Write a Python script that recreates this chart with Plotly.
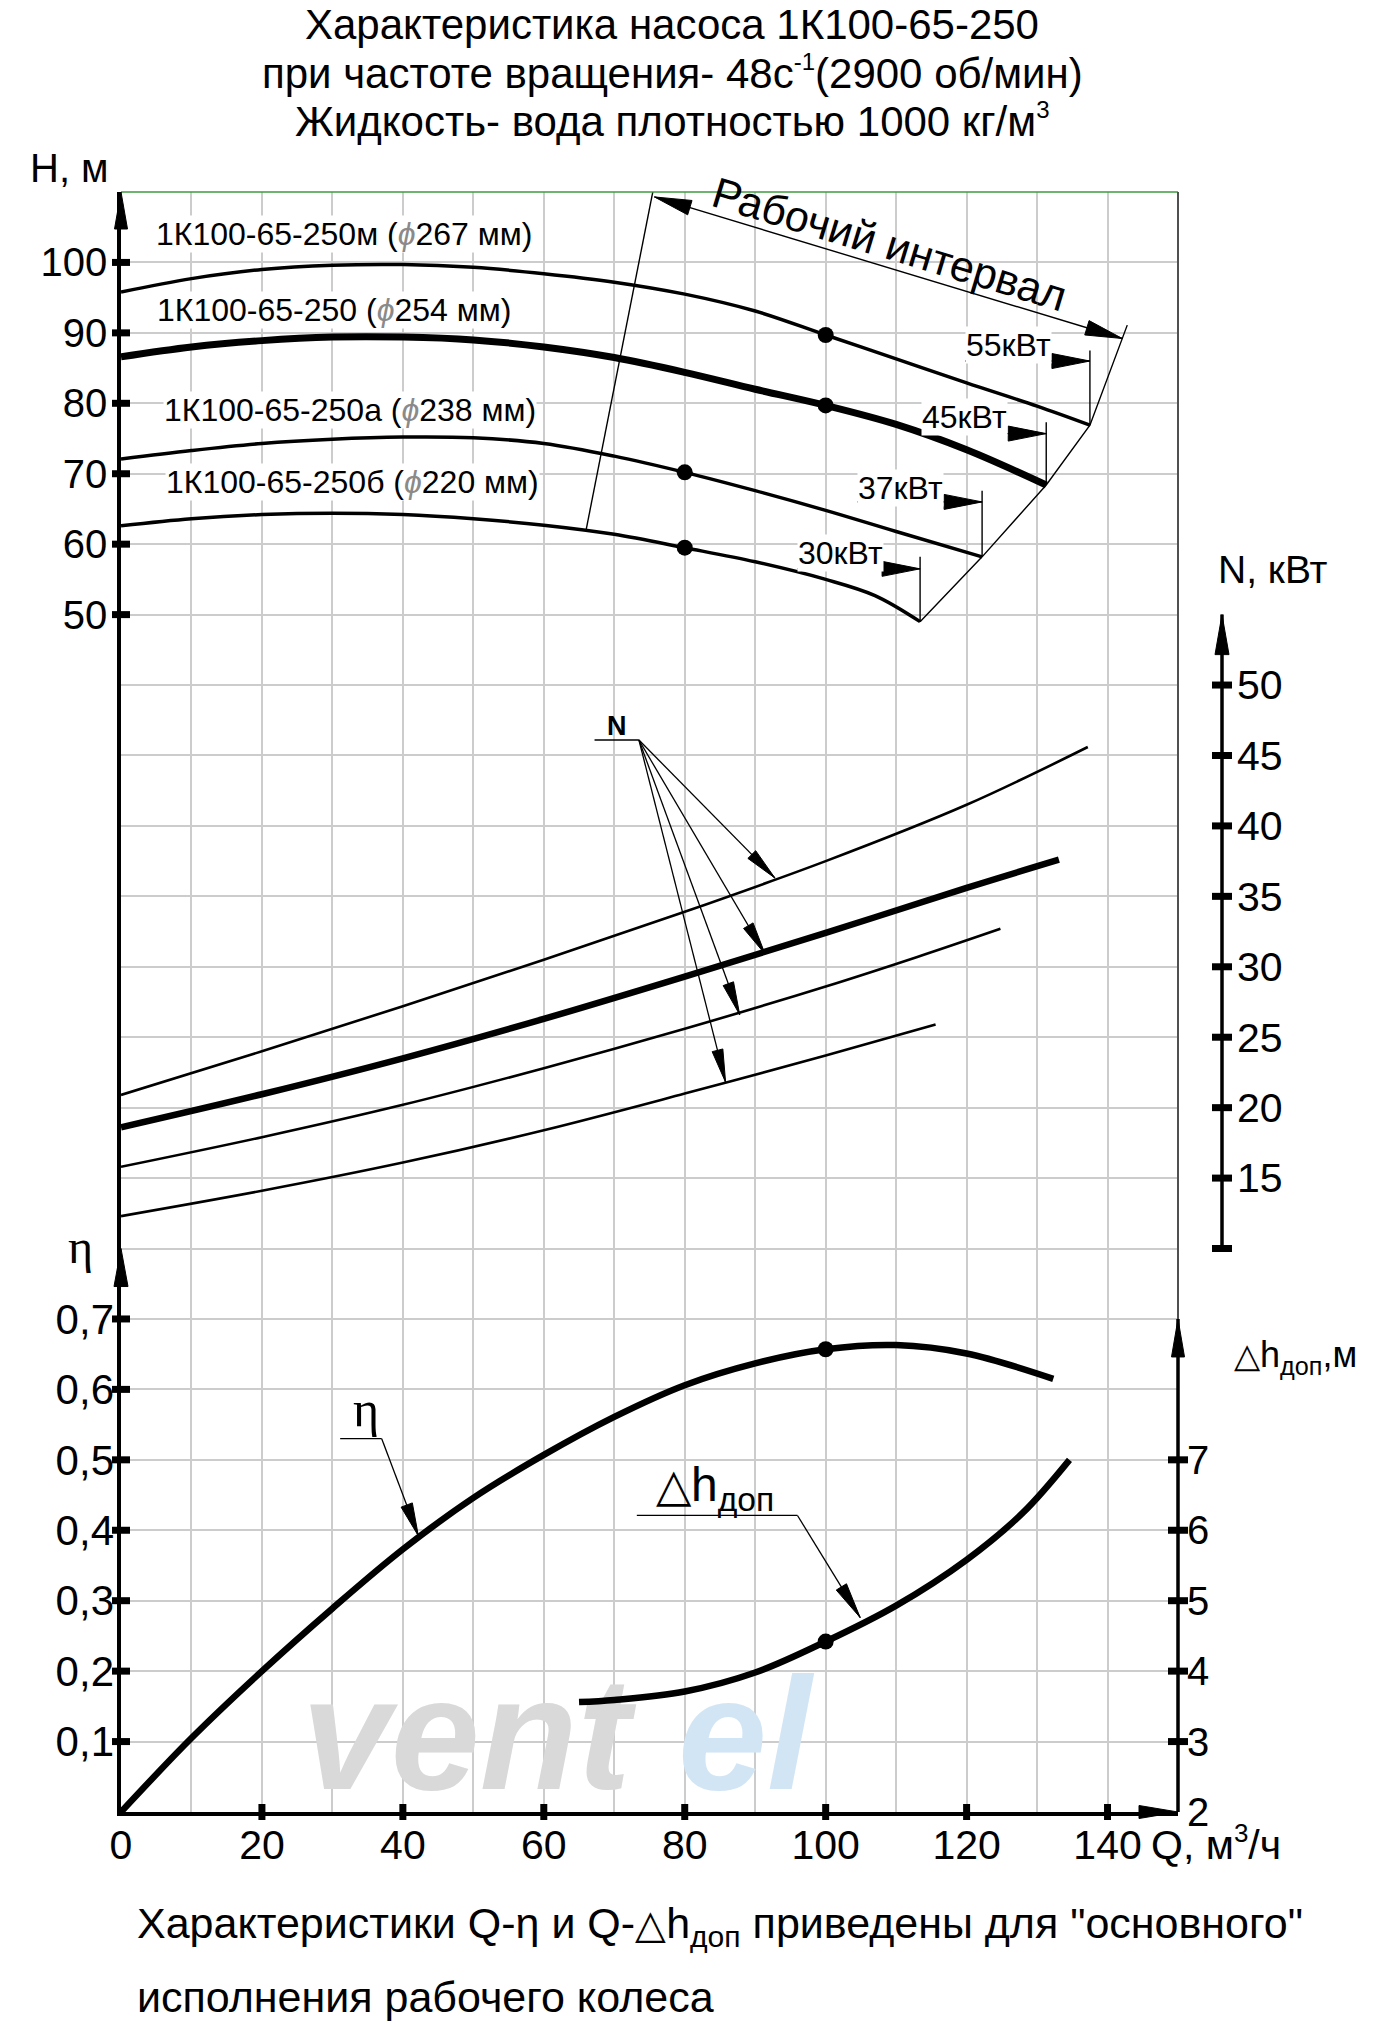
import math
import plotly.graph_objects as go

# ------------------------------------------------------------------ data
# Head curves H(Q), Q in m3/h, H in m
Q_m = [0, 10, 20, 30, 40, 50, 60, 70, 80, 90, 100, 110, 120, 130, 137.5]
H_m = [95.8, 97.7, 99.0, 99.6, 99.7, 99.3, 98.4, 97.2, 95.5, 93.1, 89.7, 86.3, 82.9, 79.6, 76.9]
Q_base = [0, 10, 20, 30, 40, 50, 60, 70, 80, 90, 100, 110, 120, 131.3]
H_base = [86.6, 88.0, 88.9, 89.4, 89.4, 89.0, 88.0, 86.5, 84.4, 82.0, 79.7, 77.0, 73.4, 68.4]
Q_a = [0, 10, 20, 30, 40, 50, 60, 70, 80, 90, 100, 110, 122.2]
H_a = [72.1, 73.3, 74.3, 74.9, 75.2, 75.1, 74.3, 72.5, 70.2, 67.6, 64.8, 61.8, 58.2]
Q_b = [0, 10, 20, 30, 40, 50, 60, 70, 80, 90, 100, 107, 113.4]
H_b = [62.6, 63.6, 64.2, 64.4, 64.2, 63.6, 62.7, 61.4, 59.5, 57.5, 55.0, 52.7, 49.0]

IMP_NAMES = ["1К100-65-250м", "1К100-65-250", "1К100-65-250а", "1К100-65-250б"]
IMP_DIAM = [267, 254, 238, 220]
LABEL_Q = [4.8, 5.0, 5.9, 6.3]
LABEL_H = [104.1, 93.2, 79.0, 68.8]

OP_Q = [100, 100, 80, 80]
OP_H = [89.7, 79.7, 70.2, 59.5]

# working interval
LEFT_Q = [75.8, 66.0]
LEFT_H = [111.7, 62.0]
RIGHT_Q = [142.8, 137.5, 131.3, 122.2, 113.4]
RIGHT_H = [91.1, 76.9, 68.4, 58.2, 49.0]
INTERVAL_Q = [75.7, 142.1]
INTERVAL_H = [109.3, 89.2]
INTERVAL_TEXT = "Рабочий интервал"
INTERVAL_TEXT_Q, INTERVAL_TEXT_H = 109.0, 102.6

# motor powers
MOTOR_LABELS = ["55кВт", "45кВт", "37кВт", "30кВт"]
MOTOR_Q0 = [119.8, 113.5, 104.5, 96.0]
MOTOR_Q1 = [137.5, 131.3, 122.2, 113.4]
MOTOR_H_ARROW = [86.0, 75.7, 66.0, 56.5]
MOTOR_H_TOP = [87.5, 77.3, 67.6, 58.2]
MOTOR_H_END = [76.9, 68.4, 58.2, 49.0]
MOTOR_H_TEXT = [88.3, 78.1, 68.0, 58.8]

# power curves N(Q), kW
QN_m = [0, 20, 40, 60, 80, 100, 120, 137.2]
N_m = [20.9, 24.0, 27.2, 30.5, 33.9, 37.5, 41.5, 45.6]
QN_base = [0, 20, 40, 60, 80, 100, 120, 133.1]
N_base = [18.6, 20.95, 23.5, 26.3, 29.3, 32.4, 35.6, 37.6]
QN_a = [0, 20, 40, 60, 80, 100, 113, 124.8]
N_a = [15.8, 17.9, 20.2, 22.8, 25.6, 28.6, 30.7, 32.7]
QN_b = [0, 20, 40, 60, 80, 100, 115.6]
N_b = [12.3, 14.1, 16.1, 18.4, 21.0, 23.7, 25.9]

N_LEAD_Q = [67.2, 73.5]
N_LEAD_V = 46.1
N_TEXT_Q, N_TEXT_V = 70.4, 47.1
N_TARGET_Q = [92.8, 91.4, 87.8, 85.8]
N_TARGET_V = [36.3, 30.9, 26.6, 21.8]

# efficiency
Q_eta = [0, 10, 20, 30, 40, 50, 60, 70, 80, 90, 100, 110, 120, 132.3]
ETA = [0, 0.105, 0.2, 0.289, 0.373, 0.446, 0.507, 0.561, 0.606, 0.637, 0.657, 0.663, 0.651, 0.615]
ETA_DOT_Q, ETA_DOT_V = 100, 0.657
ETA_LEAD_Q = [31.1, 37.0]
ETA_LEAD_V = 0.53
ETA_TEXT_Q, ETA_TEXT_V = 34.8, 0.572
ETA_TIP_Q, ETA_TIP_V = 42.2, 0.392

# NPSH required
Q_dh = [65, 70, 80, 90, 100, 110, 120, 128, 134.6]
DH = [3.56, 3.59, 3.71, 3.98, 4.42, 4.93, 5.58, 6.25, 7.0]
DH_DOT_Q, DH_DOT_V = 100, 4.42
DH_LEAD_Q = [73.2, 96.0]
DH_LEAD_V = 6.21
DH_TEXT_Q, DH_TEXT_V = 84.3, 6.6
DH_TIP_Q, DH_TIP_V = 104.9, 4.76

# axis ticks
Q_GRID = list(range(0, 150, 10))
H_GRID = list(range(-120, 111, 10))
H_TICKS = [50, 60, 70, 80, 90, 100]
N_TICKS = [15, 20, 25, 30, 35, 40, 45, 50]
N_AXIS_ENDS = [10, 55]
ETA_TICKS = [0.1, 0.2, 0.3, 0.4, 0.5, 0.6, 0.7]
ETA_ARROW = 0.8
DH_TICKS = [2, 3, 4, 5, 6, 7]
DH_ARROW = 9

# watermark
WM_TEXT = ["<b><i>vent</i></b>", "<b><i>el</i></b>"]
WM_Q = [49.0, 88.5]
WM_ETA = [0.09, 0.09]

# ------------------------------------------------------------------ layout constants
W, HGT = 1373, 2027
ML, MR, MT, MB = 121, 40, 192, 215
PW, PH = W - ML - MR, HGT - MT - MB
XDOM = 1057 / PW
Q_RANGE = [0, 150]
H_RANGE = [-120, 110]
N_RANGE = [-30, 85]
ETA_RANGE = [0, 2.3]
DH_RANGE = [2, 25]
PN = (1222 - ML) / PW

SX = XDOM * PW / (Q_RANGE[1] - Q_RANGE[0])
SH = PH / (H_RANGE[1] - H_RANGE[0])
SN = PH / (N_RANGE[1] - N_RANGE[0])
SE = PH / (ETA_RANGE[1] - ETA_RANGE[0])
SD = PH / (DH_RANGE[1] - DH_RANGE[0])

FONT = "Liberation Sans, Arial, sans-serif"
SERIF = "Liberation Serif, Times New Roman, serif"
GRID = "#cccccc"


def pxx(x):
    return (x - ML) / PW


def pxy(y):
    return 1 - (y - MT) / PH


fig = go.Figure()

# faint watermark text (under everything)
fig.add_trace(go.Scatter(
    x=WM_Q, y=WM_ETA, yaxis="y3", mode="text", text=WM_TEXT,
    textfont=dict(size=160, color=["#d9d9d9", "#d2e5f5"], family=FONT),
    hoverinfo="skip", showlegend=False, cliponaxis=False))


def line(q, v, yaxis="y", width=3.5, spline=True):
    fig.add_trace(go.Scatter(
        x=q, y=v, yaxis=yaxis, mode="lines",
        line=dict(color="black", width=width, shape="spline" if spline else "linear", smoothing=1.0),
        hoverinfo="skip", showlegend=False))


shapes = []


def arrowhead(xa, ya, xref, yref, ddx, ddy, L=34, Wd=11):
    n = math.hypot(ddx, ddy)
    ux, uy = ddx / n, ddy / n
    bx, by = -L * ux, -L * uy
    qx, qy = -uy * Wd / 2, ux * Wd / 2
    path = "M0,0 L{:.2f},{:.2f} L{:.2f},{:.2f} Z".format(bx + qx, by + qy, bx - qx, by - qy)
    shapes.append(dict(type="path", path=path, xref=xref, yref=yref,
                       xsizemode="pixel", ysizemode="pixel", xanchor=xa, yanchor=ya,
                       fillcolor="black", line=dict(color="black", width=1), layer="above"))


# H curves
line(Q_m, H_m, width=3.5)
line(Q_base, H_base, width=7)
line(Q_a, H_a, width=3.5)
line(Q_b, H_b, width=3.5)

# working interval limits
line(LEFT_Q, LEFT_H, width=1.4, spline=False)
line(RIGHT_Q, RIGHT_H, width=1.4, spline=False)
line(INTERVAL_Q, INTERVAL_H, width=1.4, spline=False)
dq = INTERVAL_Q[1] - INTERVAL_Q[0]
dv = INTERVAL_H[1] - INTERVAL_H[0]
arrowhead(INTERVAL_Q[0], INTERVAL_H[0], "x", "y", -dq * SX, -dv * SH, L=37, Wd=15)
arrowhead(INTERVAL_Q[1], INTERVAL_H[1], "x", "y", dq * SX, dv * SH, L=37, Wd=15)
angle = math.degrees(math.atan2(-dv * SH, dq * SX))

# motor power markers
for i in range(4):
    line([MOTOR_Q1[i], MOTOR_Q1[i]], [MOTOR_H_TOP[i], MOTOR_H_END[i]], width=1.4, spline=False)
    line([MOTOR_Q0[i], MOTOR_Q1[i]], [MOTOR_H_ARROW[i], MOTOR_H_ARROW[i]], width=1.4, spline=False)
    arrowhead(MOTOR_Q1[i], MOTOR_H_ARROW[i], "x", "y", 1, 0, L=38, Wd=15)

# operating points
fig.add_trace(go.Scatter(x=OP_Q, y=OP_H, mode="markers", marker=dict(color="black", size=16),
                         hoverinfo="skip", showlegend=False))

# N curves
line(QN_m, N_m, yaxis="y2", width=2.6)
line(QN_base, N_base, yaxis="y2", width=6.5)
line(QN_a, N_a, yaxis="y2", width=2.6)
line(QN_b, N_b, yaxis="y2", width=2.6)
line(N_LEAD_Q, [N_LEAD_V, N_LEAD_V], yaxis="y2", width=1.3, spline=False)
for tq, tv in zip(N_TARGET_Q, N_TARGET_V):
    line([N_LEAD_Q[1], tq], [N_LEAD_V, tv], yaxis="y2", width=1.3, spline=False)
    arrowhead(tq, tv, "x", "y2", (tq - N_LEAD_Q[1]) * SX, (tv - N_LEAD_V) * SN, L=33, Wd=11)

# efficiency
line(Q_eta, ETA, yaxis="y3", width=6.5)
fig.add_trace(go.Scatter(x=[ETA_DOT_Q], y=[ETA_DOT_V], yaxis="y3", mode="markers",
                         marker=dict(color="black", size=16), hoverinfo="skip", showlegend=False))
line(ETA_LEAD_Q, [ETA_LEAD_V, ETA_LEAD_V], yaxis="y3", width=1.3, spline=False)
line([ETA_LEAD_Q[1], ETA_TIP_Q], [ETA_LEAD_V, ETA_TIP_V], yaxis="y3", width=1.3, spline=False)
arrowhead(ETA_TIP_Q, ETA_TIP_V, "x", "y3", (ETA_TIP_Q - ETA_LEAD_Q[1]) * SX,
          (ETA_TIP_V - ETA_LEAD_V) * SE, L=33, Wd=12)

# NPSH
line(Q_dh, DH, yaxis="y4", width=6.5)
fig.add_trace(go.Scatter(x=[DH_DOT_Q], y=[DH_DOT_V], yaxis="y4", mode="markers",
                         marker=dict(color="black", size=16), hoverinfo="skip", showlegend=False))
line(DH_LEAD_Q, [DH_LEAD_V, DH_LEAD_V], yaxis="y4", width=1.3, spline=False)
line([DH_LEAD_Q[1], DH_TIP_Q], [DH_LEAD_V, DH_TIP_V], yaxis="y4", width=1.3, spline=False)
arrowhead(DH_TIP_Q, DH_TIP_V, "x", "y4", (DH_TIP_Q - DH_LEAD_Q[1]) * SX,
          (DH_TIP_V - DH_LEAD_V) * SD, L=36, Wd=12)

# ------------------------------------------------------------------ frame and axes
shapes.append(dict(type="line", xref="x", yref="paper", x0=Q_RANGE[0], x1=Q_RANGE[1], y0=1, y1=1,
                   line=dict(color="#3e9b3e", width=1.6)))
shapes.append(dict(type="line", xref="paper", yref="y4", x0=XDOM, x1=XDOM, y0=DH_ARROW, y1=DH_RANGE[1],
                   line=dict(color="#505050", width=2)))
shapes.append(dict(type="line", xref="paper", yref="y4", x0=XDOM, x1=XDOM, y0=DH_RANGE[0], y1=DH_ARROW,
                   line=dict(color="black", width=3.5)))
shapes.append(dict(type="line", xref="paper", yref="y2", x0=PN, x1=PN, y0=N_AXIS_ENDS[0], y1=N_AXIS_ENDS[1],
                   line=dict(color="black", width=3.5)))

arrowhead(0, H_RANGE[1], "paper", "y", 0, 1, L=37, Wd=13)
arrowhead(0, ETA_ARROW, "paper", "y3", 0, 1, L=38, Wd=14)
arrowhead(Q_RANGE[1], 0, "x", "paper", 1, 0, L=39, Wd=13)
arrowhead(XDOM, DH_ARROW, "paper", "y4", 0, 1, L=38, Wd=13)
arrowhead(PN, N_AXIS_ENDS[1], "paper", "y2", 0, 1, L=40, Wd=14)


def hdash(xa, yref, v, half=9, w=7):
    shapes.append(dict(type="line", xref="paper", yref=yref, xsizemode="pixel", xanchor=xa,
                       x0=-half, x1=half, y0=v, y1=v, line=dict(color="black", width=w)))


for v in H_TICKS:
    hdash(0, "y", v)
for v in ETA_TICKS:
    hdash(0, "y3", v)
for v in DH_TICKS[1:]:
    hdash(XDOM, "y4", v, half=10)
for v in N_TICKS + [N_AXIS_ENDS[0]]:
    hdash(PN, "y2", v, half=10)
for q in Q_GRID:
    if q % 20 == 0 and q > 0:
        shapes.append(dict(type="line", xref="x", yref="paper", ysizemode="pixel", yanchor=0,
                           x0=q, x1=q, y0=-8, y1=8, line=dict(color="black", width=7)))

# ------------------------------------------------------------------ annotations
ann = []


def text(s, x, y, xref="paper", yref="paper", size=40, xanchor="center", family=FONT, bg=None, angle=0):
    d = dict(text=s, x=x, y=y, xref=xref, yref=yref, showarrow=False, xanchor=xanchor, yanchor="middle",
             font=dict(size=size, family=family, color="black"), borderpad=0, textangle=angle)
    if bg:
        d["bgcolor"] = bg
    ann.append(d)


TRI = "<span style='font-size:{}px'>△</span>"
SUP = "<sup><span style='font-size:{}px'>{}</span></sup>"

text("Характеристика насоса 1К100-65-250", pxx(672), pxy(24), size=42)
text("при частоте вращения- 48с" + SUP.format(24, "-1") + "(2900 об/мин)", pxx(672), pxy(72), size=42)
text("Жидкость- вода плотностью 1000 кг/м" + SUP.format(24, "3"), pxx(672), pxy(121), size=42)

text("H, м", pxx(69), pxy(168), size=40)
text("N, кВт", pxx(1273), pxy(569), size=39)
text("η", pxx(80), pxy(1246), size=48, family=SERIF)
text(TRI.format(34) + "h<sub>доп</sub>,м", pxx(1233), pxy(1357), size=36, xanchor="left")
text("Q, м" + SUP.format(26, "3") + "/ч", pxx(1150), pxy(1843), size=41, xanchor="left")

text("Характеристики Q-η и Q-" + TRI.format(40) + "h<sub>доп</sub> приведены для \"основного\"",
     pxx(136), pxy(1926), size=43, xanchor="left")
text("исполнения рабочего колеса", pxx(136), pxy(1997), size=43, xanchor="left")

for nm, dia, q, h in zip(IMP_NAMES, IMP_DIAM, LABEL_Q, LABEL_H):
    text("{} (<span style='color:#8a8a8a'><i>ϕ</i></span>{} мм)".format(nm, dia), q, h, "x", "y",
         size=32, xanchor="left", bg="white")

for lab, q, h in zip(MOTOR_LABELS, MOTOR_Q0, MOTOR_H_TEXT):
    text(lab, q, h, "x", "y", size=32, xanchor="left", bg="white")

text(INTERVAL_TEXT, INTERVAL_TEXT_Q, INTERVAL_TEXT_H, "x", "y", size=43, angle=angle)
text("<b>N</b>", N_TEXT_Q, N_TEXT_V, "x", "y2", size=27)
text("η", ETA_TEXT_Q, ETA_TEXT_V, "x", "y3", size=50, family=SERIF)
text(TRI.format(46) + "h<sub>доп</sub>", DH_TEXT_Q, DH_TEXT_V, "x", "y4", size=48)

# ------------------------------------------------------------------ axes
fig.update_layout(
    width=W, height=HGT,
    margin=dict(l=ML, r=MR, t=MT, b=MB),
    paper_bgcolor="white", plot_bgcolor="white", showlegend=False,
    font=dict(family=FONT, color="black"),
    xaxis=dict(domain=[0, XDOM], range=Q_RANGE, tickmode="array", tickvals=Q_GRID,
               ticktext=[str(q) if q % 20 == 0 else "" for q in Q_GRID],
               showgrid=True, gridcolor=GRID, gridwidth=1.5, zeroline=False,
               showline=True, linecolor="black", linewidth=3.5, ticks="",
               tickfont=dict(size=41, family=FONT, color="black"), ticklabelstandoff=-6),
    yaxis=dict(range=H_RANGE, tickmode="array", tickvals=H_GRID,
               ticktext=[str(v) if v in H_TICKS else "" for v in H_GRID],
               showgrid=True, gridcolor=GRID, gridwidth=1.5, zeroline=False,
               showline=True, linecolor="black", linewidth=3.5, ticks="",
               tickfont=dict(size=40, family=FONT, color="black"), ticklabelstandoff=2),
    yaxis2=dict(overlaying="y", anchor="free", position=PN, side="right", range=N_RANGE,
                tickmode="array", tickvals=N_TICKS, showgrid=False, zeroline=False, showline=False,
                ticks="", tickfont=dict(size=41, family=FONT, color="black"), ticklabelstandoff=14),
    yaxis3=dict(overlaying="y", anchor="x", side="left", range=ETA_RANGE, tickmode="array",
                tickvals=ETA_TICKS, ticktext=["{:.1f}".format(v).replace(".", ",") for v in ETA_TICKS],
                showgrid=False, zeroline=False, showline=False, ticks="",
                tickfont=dict(size=42, family=FONT, color="black"), ticklabelstandoff=6),
    yaxis4=dict(overlaying="y", anchor="x", side="right", range=DH_RANGE, tickmode="array",
                tickvals=DH_TICKS, showgrid=False, zeroline=False, showline=False, ticks="",
                tickfont=dict(size=40, family=FONT, color="black"), ticklabelstandoff=8),
    shapes=shapes, annotations=ann,
)

fig.write_html("out.html", config={"displayModeBar": False},
               post_script="document.body.style.margin='0px';")
